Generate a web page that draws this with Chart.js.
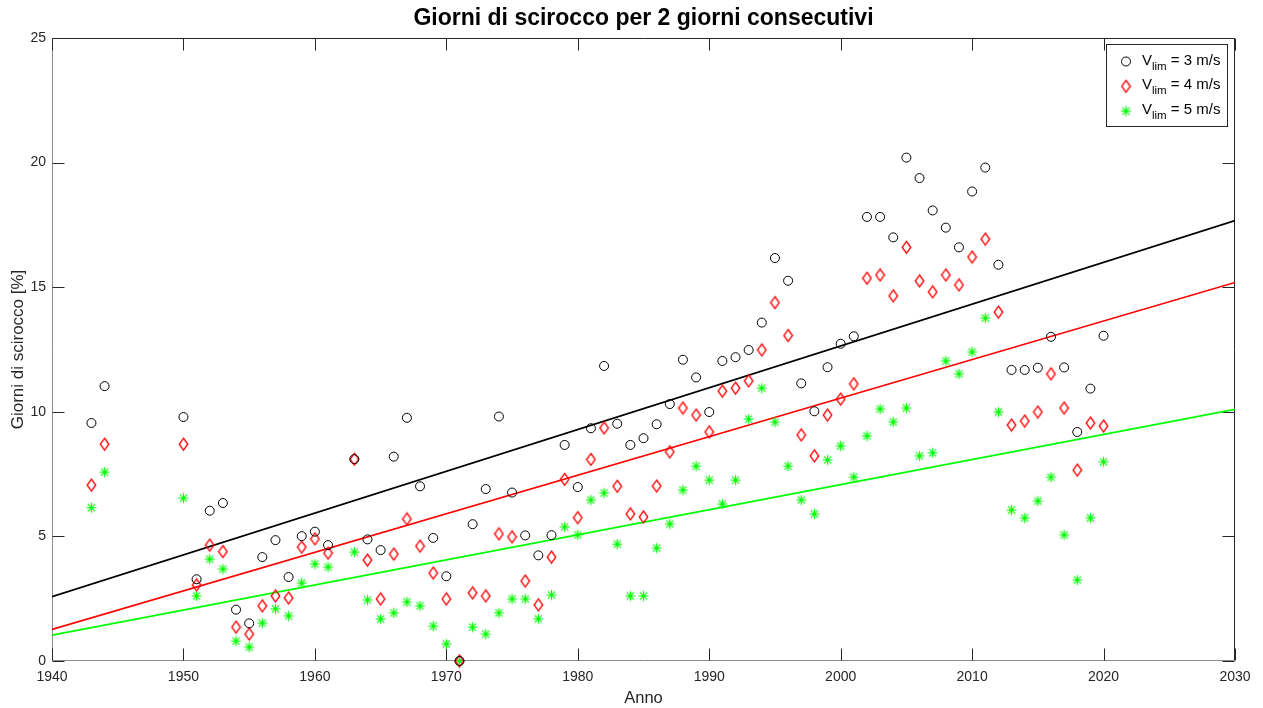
<!DOCTYPE html>
<html>
<head>
<meta charset="utf-8">
<script src="https://cdn.jsdelivr.net/npm/chart.js@4.4.0/dist/chart.umd.min.js"></script>
<style>
  html, body { margin: 0; padding: 0; background: #fff; }
  #wrap { width: 1263px; height: 708px; }
</style>
</head>
<body>
<div id="wrap"><canvas id="chart" width="1263" height="708"></canvas></div>
<script>
// anni (mancano 1945-1949 e 1962)
const years = [1943, 1944, 1950, 1951, 1952, 1953, 1954, 1955, 1956, 1957, 1958, 1959, 1960, 1961,
  1963, 1964, 1965, 1966, 1967, 1968, 1969, 1970, 1971, 1972, 1973, 1974, 1975, 1976, 1977, 1978, 1979,
  1980, 1981, 1982, 1983, 1984, 1985, 1986, 1987, 1988, 1989, 1990, 1991, 1992, 1993, 1994, 1995, 1996,
  1997, 1998, 1999, 2000, 2001, 2002, 2003, 2004, 2005, 2006, 2007, 2008, 2009, 2010, 2011, 2012, 2013,
  2014, 2015, 2016, 2017, 2018, 2019, 2020];

const v3 = [9.55, 11.03, 9.79, 3.28, 6.03, 6.34, 2.06, 1.51, 4.17, 4.85, 3.37, 5.01, 5.19, 4.65,
  8.1, 4.88, 4.45, 8.2, 9.76, 7.01, 4.94, 3.4, 0, 5.49, 6.9, 9.81, 6.76, 5.04, 4.24, 5.05, 8.67,
  6.98, 9.34, 11.84, 9.52, 8.67, 8.94, 9.5, 10.31, 12.09, 11.38, 9.99, 12.04, 12.19, 12.48, 13.58, 16.17, 15.26,
  11.14, 10.02, 11.79, 12.73, 13.03, 17.82, 17.82, 17.0, 20.2, 19.38, 18.08, 17.39, 16.6, 18.84, 19.8, 15.9, 11.68,
  11.68, 11.77, 13.01, 11.78, 9.19, 10.93, 13.05];

const v4 = [7.06, 8.7, 8.7, 3.05, 4.65, 4.39, 1.36, 1.08, 2.21, 2.61, 2.53, 4.57, 4.9, 4.33,
  8.1, 4.05, 2.49, 4.29, 5.7, 4.61, 3.53, 2.49, 0, 2.73, 2.61, 5.1, 4.98, 3.21, 2.25, 4.17, 7.29,
  5.75, 8.09, 9.35, 7.01, 5.9, 5.78, 7.02, 8.39, 10.15, 9.87, 9.19, 10.83, 10.95, 11.24, 12.48, 14.38, 13.06,
  9.07, 8.23, 9.87, 10.51, 11.12, 15.36, 15.49, 14.65, 16.6, 15.25, 14.81, 15.49, 15.09, 16.21, 16.93, 14.0, 9.47,
  9.63, 9.99, 11.52, 10.15, 7.66, 9.55, 9.43];

const v5 = [6.15, 7.58, 6.54, 2.61, 4.09, 3.69, 0.8, 0.56, 1.52, 2.09, 1.81, 3.13, 3.89, 3.77,
  4.37, 2.45, 1.69, 1.93, 2.37, 2.21, 1.4, 0.68, 0, 1.36, 1.08, 1.93, 2.49, 2.49, 1.69, 2.65, 5.38,
  5.06, 6.46, 6.74, 4.69, 2.61, 2.61, 4.53, 5.5, 6.86, 7.82, 7.26, 6.3, 7.26, 9.71, 10.95, 9.59, 7.82,
  6.46, 5.9, 8.07, 8.63, 7.38, 9.03, 10.11, 9.59, 10.15, 8.23, 8.35, 12.04, 11.52, 12.4, 13.76, 9.99, 6.06,
  5.74, 6.42, 7.38, 5.06, 3.25, 5.74, 7.99];

// rette di tendenza (estremi)
const trendYears = [1940, 2030];
const trend3 = [2.58, 17.67];
const trend4 = [1.27, 15.19];
const trend5 = [1.04, 10.1];

const xTicks = [1940, 1950, 1960, 1970, 1980, 1990, 2000, 2010, 2020, 2030];
const yTicks = [0, 5, 10, 15, 20, 25];
const legendLabels = ['3 m/s', '4 m/s', '5 m/s'];

const FONT = '"Liberation Sans", Arial, Helvetica, sans-serif';
const AXIS_COLOR = '#262626';

function toPoints(xs, ys) {
    return xs.map((x, i) => ({ x: x, y: ys[i] }));
}

function diamondImage(color) {
    const c = document.createElement('canvas');
    c.width = 11;
    c.height = 15;
    const g = c.getContext('2d');
    g.strokeStyle = color;
    g.lineWidth = 1.3;
    g.beginPath();
    g.moveTo(5.5, 1.5);
    g.lineTo(9.8, 7.5);
    g.lineTo(5.5, 13.5);
    g.lineTo(1.2, 7.5);
    g.closePath();
    g.stroke();
    return c;
}

function starImage(color) {
    const c = document.createElement('canvas');
    c.width = 13;
    c.height = 13;
    const g = c.getContext('2d');
    g.strokeStyle = color;
    g.lineWidth = 1.2;
    const x = 6.5, y = 6.5, r = 5, d = 3.6;
    g.beginPath();
    g.moveTo(x - r, y); g.lineTo(x + r, y);
    g.moveTo(x, y - r); g.lineTo(x, y + r);
    g.moveTo(x - d, y - d); g.lineTo(x + d, y + d);
    g.moveTo(x - d, y + d); g.lineTo(x + d, y - d);
    g.stroke();
    return c;
}

const diamond = diamondImage('#ff0000');
const star = starImage('#00ff00');

function drawMarker(ctx, kind, x, y) {
    ctx.save();
    if (kind === 0) {
        ctx.lineWidth = 1;
        ctx.strokeStyle = '#000';
        ctx.beginPath();
        ctx.arc(x, y, 4.5, 0, Math.PI * 2);
        ctx.stroke();
    } else {
        const img = kind === 1 ? diamond : star;
        ctx.drawImage(img, x - img.width / 2, y - img.height / 2);
    }
    ctx.restore();
}

// riquadro e tacche verso l'interno, stile MATLAB
const frame = {
    id: 'frame',
    beforeDatasetsDraw(chart) {
        const { ctx, chartArea: a, scales: { x, y } } = chart;
        const L = Math.round(a.left) + 0.5, R = Math.round(a.right) - 0.5;
        const T = Math.round(a.top) + 0.5, B = Math.round(a.bottom) - 0.5;
        const tick = 12;
        ctx.save();
        ctx.lineWidth = 1;
        ctx.strokeStyle = AXIS_COLOR;
        ctx.beginPath();
        ctx.moveTo(L, T); ctx.lineTo(R, T); ctx.lineTo(R, B);
        ctx.stroke();
        ctx.strokeStyle = '#8a8a8a';
        ctx.beginPath();
        ctx.moveTo(L, T); ctx.lineTo(L, B); ctx.lineTo(R, B);
        ctx.stroke();
        ctx.strokeStyle = AXIS_COLOR;
        ctx.beginPath();
        xTicks.forEach(v => {
            const px = Math.round(x.getPixelForValue(v)) + 0.5;
            ctx.moveTo(px, B); ctx.lineTo(px, B - tick);
            ctx.moveTo(px, T); ctx.lineTo(px, T + tick);
        });
        yTicks.forEach(v => {
            const py = Math.round(y.getPixelForValue(v)) + 0.5;
            ctx.moveTo(L, py); ctx.lineTo(L + tick, py);
            ctx.moveTo(R, py); ctx.lineTo(R - tick, py);
        });
        ctx.stroke();
        ctx.restore();
    },
    afterDraw(chart) {
        const { ctx, chartArea: a } = chart;
        const cx = (a.left + a.right) / 2;
        ctx.save();
        ctx.fillStyle = '#000';
        ctx.textAlign = 'center';
        ctx.textBaseline = 'middle';
        ctx.font = 'bold 23px ' + FONT;
        ctx.fillText('Giorni di scirocco per 2 giorni consecutivi', cx, 19);

        ctx.fillStyle = AXIS_COLOR;
        ctx.font = '16.5px ' + FONT;
        ctx.fillText('Anno', cx, 698);
        ctx.translate(18, (a.top + a.bottom) / 2);
        ctx.rotate(-Math.PI / 2);
        ctx.font = '17px ' + FONT;
        ctx.fillText('Giorni di scirocco [%]', 0, 0);
        ctx.restore();

        // legenda
        ctx.save();
        ctx.fillStyle = '#fff';
        ctx.fillRect(1106, 44, 121, 82);
        ctx.strokeStyle = AXIS_COLOR;
        ctx.lineWidth = 1;
        ctx.strokeRect(1106.5, 44.5, 121, 82);
        ctx.fillStyle = '#000';
        ctx.textAlign = 'left';
        ctx.textBaseline = 'alphabetic';
        legendLabels.forEach((lab, i) => {
            const my = 61.5 + i * 24.8;
            drawMarker(ctx, i, 1126, my);
            let tx = 1142;
            ctx.font = '15px ' + FONT;
            ctx.fillText('V', tx, my + 3);
            tx += ctx.measureText('V').width;
            ctx.font = '11.5px ' + FONT;
            ctx.fillText('lim', tx, my + 8);
            tx += ctx.measureText('lim').width;
            ctx.font = '15px ' + FONT;
            ctx.fillText(' = ' + lab, tx, my + 3);
        });
        ctx.restore();
    }
};

const scatterBase = { showLine: false, clip: false, pointBorderWidth: 1, pointHoverRadius: 4.5 };

new Chart(document.getElementById('chart'), {
    type: 'scatter',
    data: {
        datasets: [
            Object.assign({
                label: 'Vlim = 3 m/s', data: toPoints(years, v3),
                pointStyle: 'circle', pointRadius: 4.5,
                borderColor: '#000000', backgroundColor: 'rgba(0,0,0,0)'
            }, scatterBase),
            Object.assign({
                label: 'Vlim = 4 m/s', data: toPoints(years, v4),
                pointStyle: diamond, pointRadius: 6,
                borderColor: '#ff0000', backgroundColor: 'rgba(0,0,0,0)'
            }, scatterBase),
            Object.assign({
                label: 'Vlim = 5 m/s', data: toPoints(years, v5),
                pointStyle: star, pointRadius: 5,
                borderColor: '#00ff00', backgroundColor: '#00ff00'
            }, scatterBase),
            { type: 'line', data: toPoints(trendYears, trend3), borderColor: '#000000', borderWidth: 1.7, pointRadius: 0, fill: false },
            { type: 'line', data: toPoints(trendYears, trend4), borderColor: '#ff0000', borderWidth: 1.7, pointRadius: 0, fill: false },
            { type: 'line', data: toPoints(trendYears, trend5), borderColor: '#00ff00', borderWidth: 1.7, pointRadius: 0, fill: false }
        ]
    },
    options: {
        responsive: false,
        animation: false,
        events: [],
        layout: { padding: { top: 38, right: 28, left: 0, bottom: 0 } },
        plugins: { legend: { display: false }, title: { display: false }, tooltip: { enabled: false } },
        scales: {
            x: {
                type: 'linear', min: 1940, max: 2030,
                afterBuildTicks: s => { s.ticks = xTicks.map(v => ({ value: v })); },
                afterFit: s => { s.height = 47; },
                grid: { display: false, drawTicks: false },
                border: { display: false },
                ticks: { color: AXIS_COLOR, padding: 8, maxRotation: 0, font: { size: 14, family: FONT },
                         callback: v => String(v) }
            },
            y: {
                type: 'linear', min: 0, max: 25,
                afterBuildTicks: s => { s.ticks = yTicks.map(v => ({ value: v })); },
                afterFit: s => { s.width = 52; },
                grid: { display: false, drawTicks: false },
                border: { display: false },
                ticks: { color: AXIS_COLOR, padding: 6, font: { size: 14, family: FONT },
                         callback: v => String(v) }
            }
        }
    },
    plugins: [frame]
});
</script>
</body>
</html>
